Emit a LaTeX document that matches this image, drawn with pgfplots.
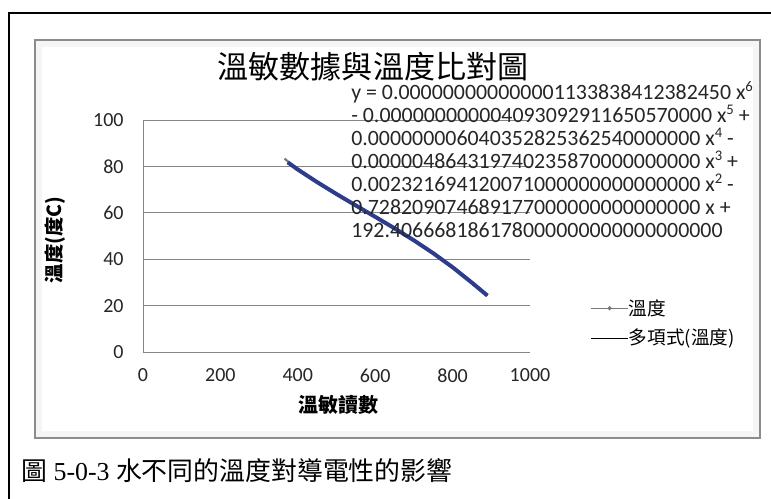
\documentclass[border=0pt]{standalone}
\usepackage{fontspec}
\setmainfont{Carlito}
\newfontfamily\cjk{Noto Sans CJK TC}
\newfontfamily\serif{Liberation Serif}
\usepackage{pgfplots}
\pgfplotsset{compat=1.18}
\definecolor{gridc}{RGB}{134,134,134}
\definecolor{trendc}{RGB}{45,60,140}
\definecolor{datac}{RGB}{120,120,120}
\newcommand{\sups}[1]{\raisebox{0.38em}{\fontsize{11}{11}\selectfont #1}}
\begin{document}
\begin{tikzpicture}[x=0.75pt,y=-0.75pt]
\useasboundingbox (0,0) rectangle (771,499);
% outer black frame
\draw[black, line width=1.6pt] (9,499) -- (9,13) -- (771,13);
% chart area frame
\fill[black!4] (35,40) rectangle (760,438);
\fill[white] (42,47) rectangle (753,431);
\draw[black!45, line width=1.2pt] (35,40) rectangle (760,438);
% title
\node[font=\cjk\fontsize{23.3}{24}\selectfont, anchor=center] at (373,67) {溫敏數據與溫度比對圖};
% axis titles
\node[font=\cjk\bfseries\fontsize{14.5}{15}\selectfont, rotate=90, anchor=center] at (55,240) {溫度(度C)};
\node[font=\cjk\bfseries\fontsize{15}{16}\selectfont, anchor=center] at (338,405) {溫敏讀數};
% caption
\node[anchor=west, inner sep=0pt, font=\fontsize{19.4}{20}\selectfont] at (21,471) {{\cjk 圖}{\serif\ 5-0-3 }{\cjk 水不同的溫度對導電性的影響}};
\begin{axis}[
  at={(107.25pt,-264pt)}, anchor=south west,
  scale only axis, width=290.25pt, height=174pt,
  xmin=0, xmax=1000, ymin=0, ymax=100,
  xtick={0,200,400,600,800,1000},
  ytick={0,20,40,60,80,100},
  axis x line*=bottom, axis y line*=left,
  axis line style={gridc, line width=0.75pt, -},
  major tick length=0pt,
  ymajorgrids, grid style={gridc, line width=0.75pt},
  tick label style={font=\fontsize{15}{15}\selectfont, text=black!85},
  /pgf/number format/assume math mode=true,
  /pgf/number format/1000 sep={},
  xticklabel style={yshift=-9pt},
  yticklabel style={xshift=-11pt},
  clip=false,
  legend style={at={(1.155,0.228)}, anchor=north west, draw=none, fill=none,
    inner sep=0pt, row sep=9pt,
    nodes={inner sep=0pt, font=\cjk\fontsize{14}{14}\selectfont}},
  legend cell align=left,
  legend image code/.code={\draw[#1, mark repeat=2, mark phase=2] plot coordinates {(0pt,0pt) (14pt,0pt) (28pt,0pt)};},
]
\addlegendimage{datac, line width=1pt, mark=*, mark size=1pt}
\addlegendentry{溫度}
\addlegendimage{black, line width=0.8pt}
\addlegendentry{多項式(溫度)}
% data series (mostly hidden under the trendline)
\addplot[datac, line width=1.6pt, forget plot] coordinates {
(366,83.4) (380,81.2) (400,78.7) (450,73.2) (500,68.1)
(550,63.1) (600,58.3) (650,53.3) (700,48.1) (750,42.6) (800,36.5) (850,29.9) (890,24.3)
};
% polynomial trendline
\addplot[trendc, line width=3pt, forget plot] coordinates {
(374,81.76) (400,78.66) (450,73.21) (500,68.09) (550,63.15) (600,58.26)
(650,53.30) (700,48.12) (750,42.57) (800,36.52) (850,29.87) (890,24.3)
};
\end{axis}
% trendline equation
\begin{scope}[every node/.style={anchor=base west, inner sep=0pt, text height=11.5pt, text depth=2.5pt, font=\fontsize{16.4}{17}\selectfont, text=black!85}]
\node at (351,99.5) {y = 0.000000000000001133838412382450 x\sups{6}};
\node at (351,122.5) {- 0.000000000004093092911650570000 x\sups{5} +};
\node at (351,145.5) {0.000000006040352825362540000000 x\sups{4} -};
\node at (351,168.5) {0.000004864319740235870000000000 x\sups{3} +};
\node at (351,191.5) {0.002321694120071000000000000000 x\sups{2} -};
\node at (351,214.5) {0.728209074689177000000000000000 x +};
\node at (351,237.5) {192.406668186178000000000000000000};
\end{scope}
\end{tikzpicture}
\end{document}
